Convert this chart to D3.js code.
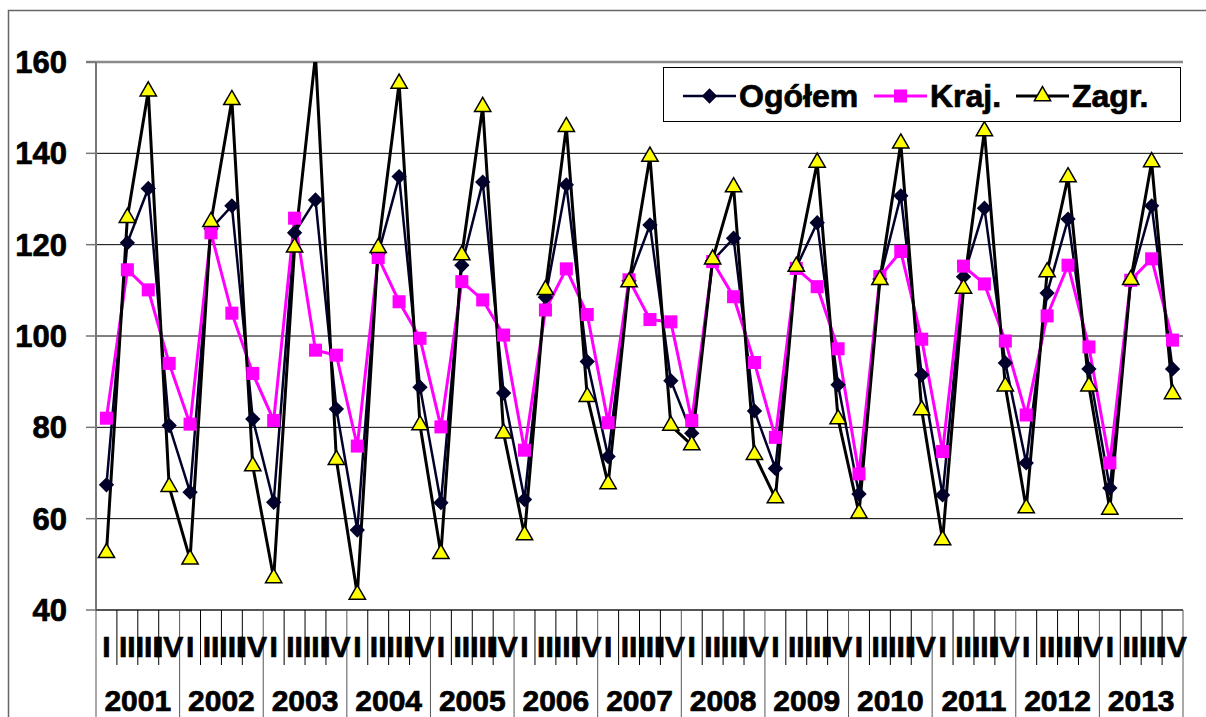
<!DOCTYPE html>
<html>
<head>
<meta charset="utf-8">
<script src="https://cdn.jsdelivr.net/npm/d3@7"></script>
<style>
  body { margin: 0; background: #fff; }
  svg { display: block; font-family: "Liberation Sans", Arial, sans-serif; font-weight: bold; }
  svg text { stroke: #000; stroke-width: 0.7px; }
</style>
</head>
<body>
<div id="chart"></div>
<script>
// lata i kwartały
var years = ["2001","2002","2003","2004","2005","2006","2007","2008","2009","2010","2011","2012","2013"];
var quarters = ["I","II","III","IV"];

// wartości (kwartalnie)
var ogolem = [67.4,120.4,132.3,80.4, 65.8,123.5,128.5,81.8, 63.6,122.6,129.8,84, 57.5,118,134.9,88.8,
              63.5,115.5,133.7,87.5, 64.2,108.5,133.1,94.4, 73.6,112.1,124.3,90.2, 78.7,116.5,121.4,83.6,
              71,115,124.8,89.3, 65.4,112.5,130.7,91.5, 65.2,113,128,94.1, 72.2,109.4,125.6,92.8,
              66.7,112,128.5,92.8];
var kraj = [82,114.5,110.1,94, 80.7,122.6,105,91.8, 81.5,125.8,96.9,95.8, 75.9,117.2,107.5,99.5,
            80.1,111.9,107.9,100.2, 75,105.7,114.7,104.7, 81,112.3,103.6,103.1, 81.5,116.3,108.6,94.2,
            77.8,114.8,110.8,97.2, 69.8,113,118.5,99.3, 74.7,115.3,111.4,98.9, 82.7,104.4,115.5,97.6,
            72.2,112.2,116.9,99.1];
var zagr = [52.5,125.9,153.6,67, 51.1,125,151.7,71.5, 47,119.4,161.5,72.9, 43.4,119.3,155.3,80.5,
            52.3,117.7,150.2,78.7, 56.4,110.1,145.8,86.7, 67.6,111.8,139.3,80.4, 76.1,116.8,132.6,74,
            64.5,115.2,138,81.8, 61.2,112.3,142.2,83.8, 55.3,110.4,144.9,89, 62.3,114,134.8,89,
            62,112.3,138.1,87.3];
var yTicks = [40,60,80,100,120,140,160];

var W = 1206, H = 717;
var plot = {left: 96, right: 1183, top: 62, bottom: 610};

var svg = d3.select("#chart").append("svg")
    .attr("width", W)
    .attr("height", H);

// ramka wykresu
svg.append("rect")
    .attr("x", 8.5).attr("y", 10.5)
    .attr("width", W + 10).attr("height", H + 10)
    .attr("fill", "none")
    .attr("stroke", "#666")
    .attr("stroke-width", 1.5);

var cats = d3.range(years.length * quarters.length);

var x = d3.scaleBand()
    .domain(cats)
    .range([plot.left, plot.right]);

var y = d3.scaleLinear()
    .domain([40, 160])
    .range([plot.bottom, plot.top]);

function cx(i) { return x(i) + x.bandwidth() / 2; }

// siatka
svg.append("g")
    .selectAll("line")
    .data(yTicks.filter(function(d){ return d > 40 && d < 160; }))
    .enter()
    .append("line")
    .attr("x1", plot.left).attr("x2", plot.right)
    .attr("y1", function(d){ return y(d); })
    .attr("y2", function(d){ return y(d); })
    .attr("stroke", "#000")
    .attr("stroke-width", 1);

// górna krawędź (160)
svg.append("line")
    .attr("x1", plot.left - 10).attr("x2", plot.right)
    .attr("y1", y(160)).attr("y2", y(160))
    .attr("stroke", "#8a8a8a").attr("stroke-width", 2.5);

// oś Y
var yAxis = svg.append("g");
yAxis.append("line")
    .attr("x1", plot.left).attr("x2", plot.left)
    .attr("y1", plot.top).attr("y2", plot.bottom)
    .attr("stroke", "#777").attr("stroke-width", 2);

yAxis.selectAll("line.tick")
    .data(yTicks)
    .enter()
    .append("line")
    .attr("class", "tick")
    .attr("x1", plot.left - 10).attr("x2", plot.left)
    .attr("y1", function(d){ return y(d); })
    .attr("y2", function(d){ return y(d); })
    .attr("stroke", "#777").attr("stroke-width", 1.5);

yAxis.selectAll("text")
    .data(yTicks)
    .enter()
    .append("text")
    .attr("x", 67)
    .attr("y", function(d){ return y(d) + 11; })
    .attr("text-anchor", "end")
    .attr("font-size", "31px")
    .text(function(d){ return d; });

// oś X
var xAxis = svg.append("g");
xAxis.append("line")
    .attr("x1", plot.left).attr("x2", plot.right)
    .attr("y1", plot.bottom).attr("y2", plot.bottom)
    .attr("stroke", "#555").attr("stroke-width", 2);

var bounds = d3.range(cats.length + 1);
xAxis.selectAll("line.qtick")
    .data(bounds)
    .enter()
    .append("line")
    .attr("class", "qtick")
    .attr("x1", function(d){ return plot.left + d * x.step(); })
    .attr("x2", function(d){ return plot.left + d * x.step(); })
    .attr("y1", plot.bottom)
    .attr("y2", function(d){ return d % 4 === 0 ? H : 665; })
    .attr("stroke", function(d){ return d % 4 === 0 ? "#555" : "#000"; })
    .attr("stroke-width", 1);

xAxis.selectAll("text.q")
    .data(cats)
    .enter()
    .append("text")
    .attr("class", "q")
    .attr("x", function(d){ return cx(d); })
    .attr("y", 657)
    .attr("text-anchor", "middle")
    .attr("font-size", "30px")
    .text(function(d){ return quarters[d % 4]; });

xAxis.selectAll("text.yr")
    .data(years)
    .enter()
    .append("text")
    .attr("class", "yr")
    .attr("x", function(d, i){ return plot.left + (i * 4 + 2) * x.step(); })
    .attr("y", 711)
    .attr("text-anchor", "middle")
    .attr("font-size", "30px")
    .text(function(d){ return d; });

// linie serii
svg.append("clipPath").attr("id", "clip")
    .append("rect")
    .attr("x", plot.left).attr("y", plot.top)
    .attr("width", plot.right - plot.left)
    .attr("height", plot.bottom - plot.top);

var series = [
    {name: "Ogółem", values: ogolem, color: "#00002a", width: 2.5, marker: "diamond"},
    {name: "Kraj.", values: kraj, color: "#ff00ff", width: 3, marker: "square"},
    {name: "Zagr.", values: zagr, color: "#000", width: 3, marker: "triangle"}
];

var line = d3.line()
    .x(function(d, i){ return cx(i); })
    .y(function(d){ return y(d); });

var symbols = {
    diamond: d3.symbol().type(d3.symbolDiamond2).size(150),
    square: d3.symbol().type(d3.symbolSquare).size(170),
    triangle: d3.symbol().type(d3.symbolTriangle).size(115)
};

function drawMarker(g, s) {
    var p = g.append("path").attr("d", symbols[s.marker]());
    if (s.marker === "triangle") {
        p.attr("fill", "#ffff00").attr("stroke", "#000").attr("stroke-width", 1.5);
    } else {
        p.attr("fill", s.color);
    }
    return p;
}

series.forEach(function(s){
    svg.append("path")
        .datum(s.values)
        .attr("clip-path", "url(#clip)")
        .attr("fill", "none")
        .attr("stroke", s.color)
        .attr("stroke-width", s.width)
        .attr("stroke-linejoin", "miter")
        .attr("d", line);
});

series.forEach(function(s){
    var g = svg.append("g");
    s.values.forEach(function(v, i){
        if (v > 160) return;
        var m = g.append("g").attr("transform", "translate(" + cx(i) + "," + y(v) + ")");
        drawMarker(m, s);
    });
});

// legenda
var legend = svg.append("g");
legend.append("rect")
    .attr("x", 663.5).attr("y", 67.5)
    .attr("width", 517).attr("height", 54)
    .attr("fill", "#fff")
    .attr("stroke", "#000").attr("stroke-width", 1);

var legPos = [683, 874, 1016];
series.forEach(function(s, i){
    var lx = legPos[i];
    legend.append("line")
        .attr("x1", lx).attr("x2", lx + 53)
        .attr("y1", 96).attr("y2", 96)
        .attr("stroke", s.color).attr("stroke-width", s.width);
    var m = legend.append("g").attr("transform", "translate(" + (lx + 26.5) + ",96)");
    drawMarker(m, s);
    legend.append("text")
        .attr("x", lx + 56)
        .attr("y", 107)
        .attr("font-size", "32px")
        .text(s.name);
});
</script>
</body>
</html>
